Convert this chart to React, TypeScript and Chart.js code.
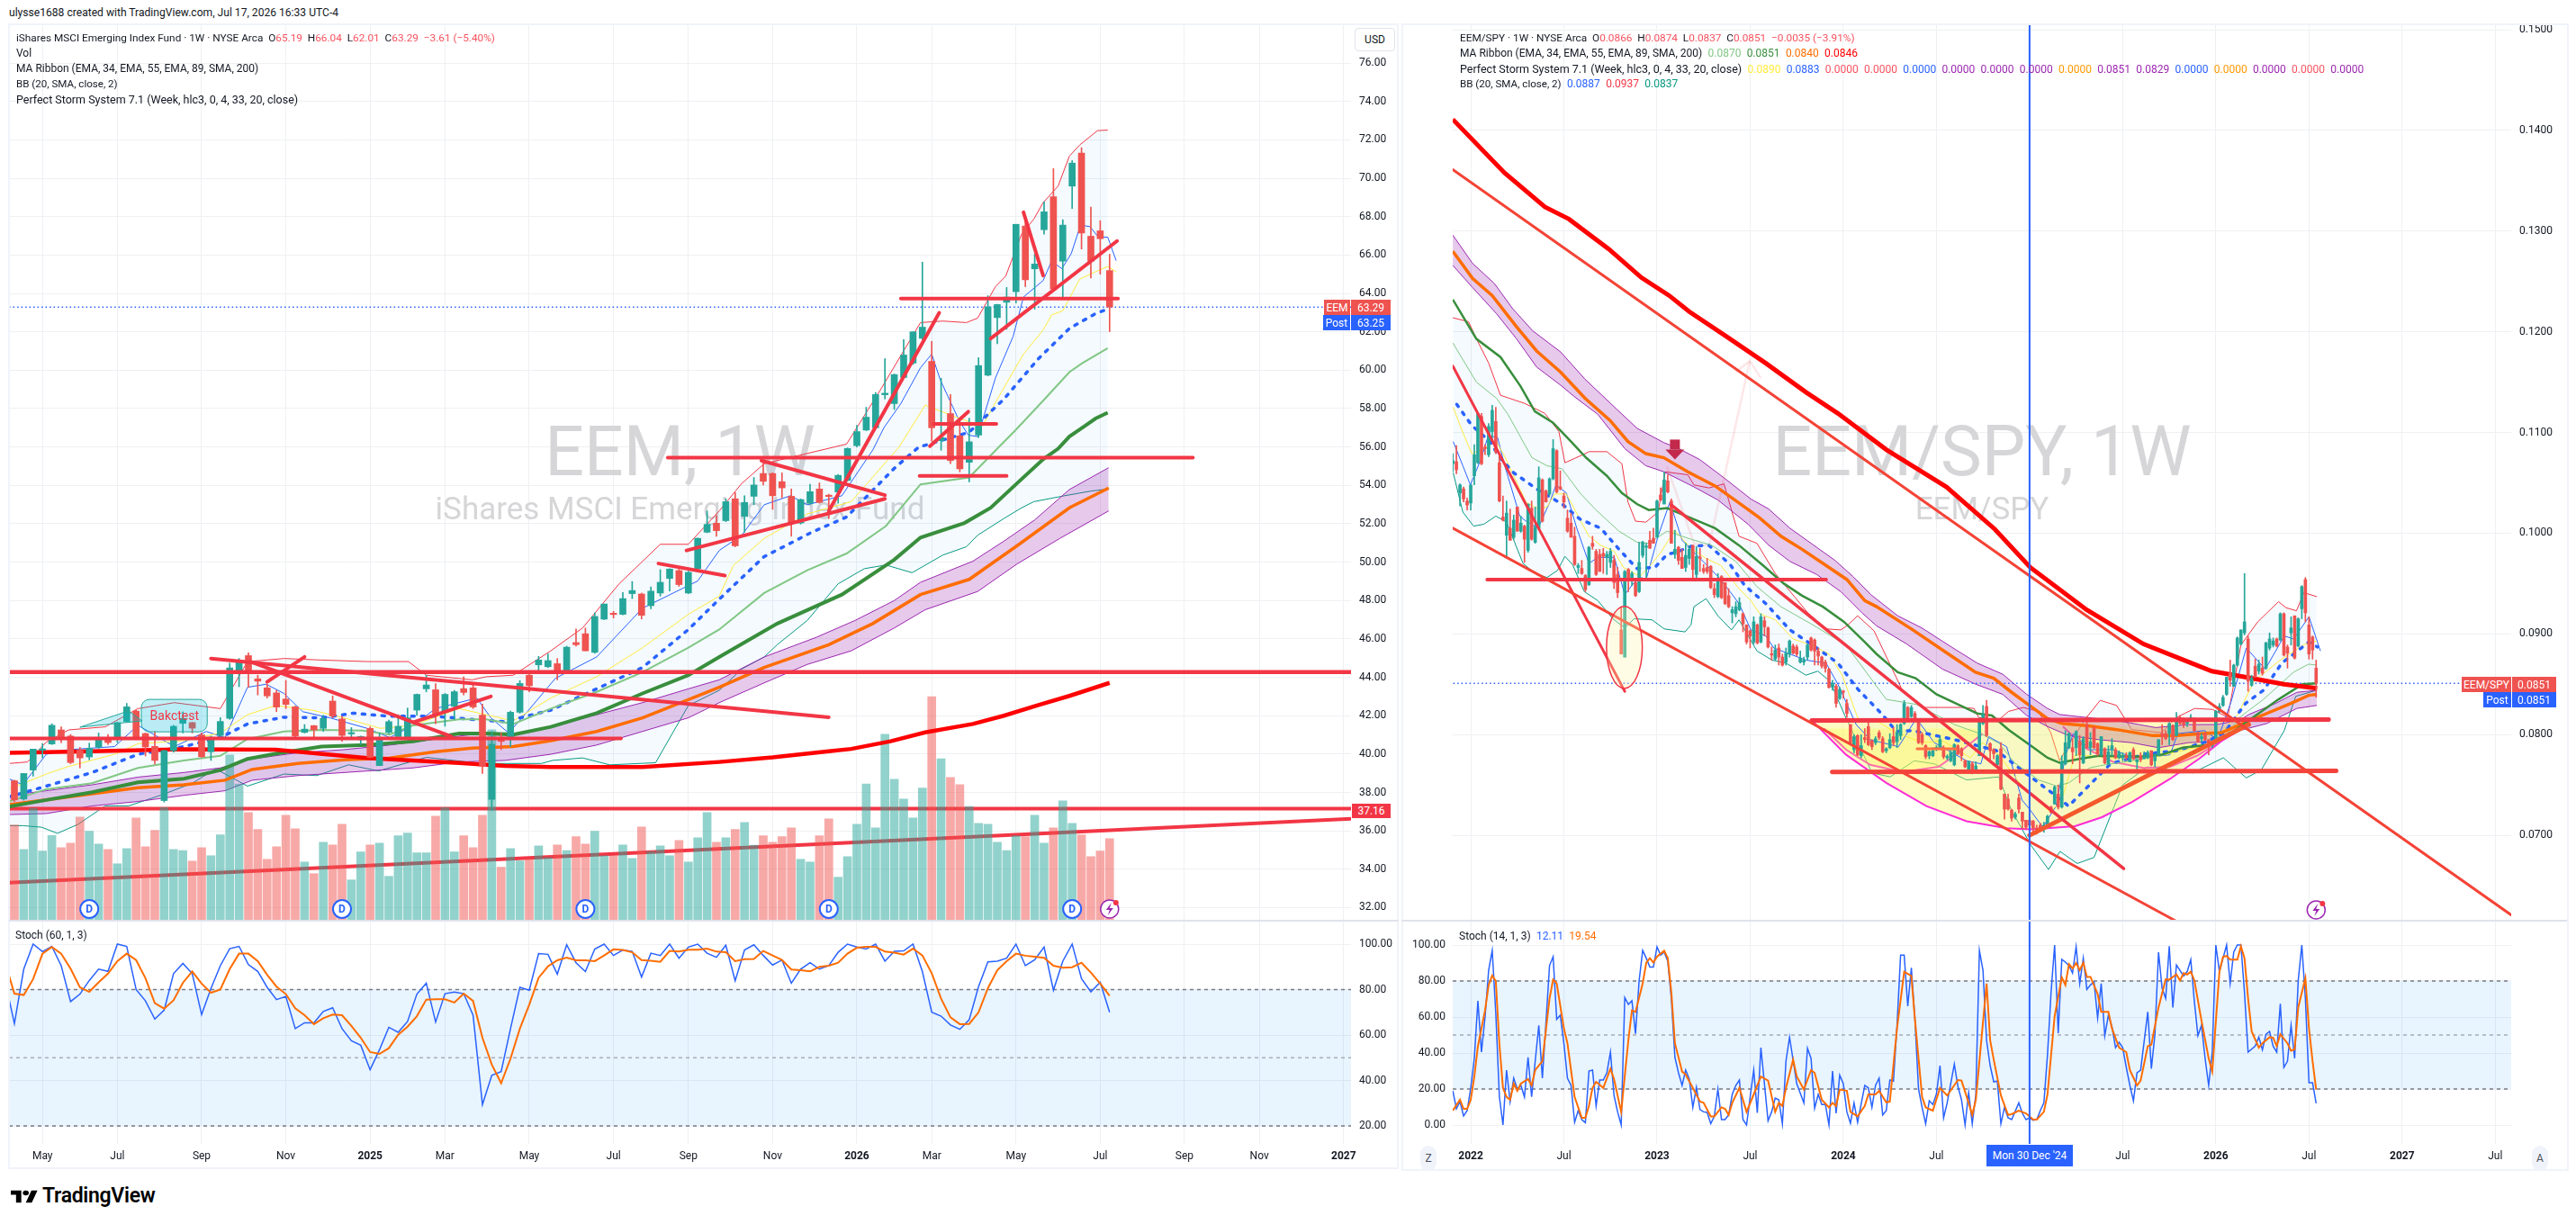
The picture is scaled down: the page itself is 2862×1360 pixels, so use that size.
import { useEffect, useRef } from "react";
import Chart from "chart.js/auto";

// ---- left pane: EEM weekly, one entry per week from week 0
const eemOpen = [38.61,37.66,39.17,40.2,40.53,41.26,40.94,40.2,39.85,40.36,40.78,40.86,41.7,42.24,41.07,40.4,37.58,40.18,41.6,41.64,41,40.12,40.97,41.86,44.19,45.13,43.92,43.45,43.19,42.87,42.46,41.13,41.48,41.34,42.76,41.83,41.05,40.75,41.34,39.4,41.13,40.91,40.78,42.29,43.4,43.35,42.18,42.49,43.41,43.45,42.03,37.64,40.78,40.86,42.18,44.11,44.65,44.55,44.71,44.27,45.81,46.27,45.3,47.03,47.3,47.28,48.36,48.34,47.73,48.39,49.15,49.56,48.39,49.66,51.56,52.03,52.16,53.3,52.38,53.43,54.62,54.62,54.19,53.43,52.04,53.07,53.81,53.47,53.65,54.26,56.07,56.88,57,58.72,58.26,59.62,60.37,61.66,60.46,56.33,57.74,56.58,55.2,56.62,59.74,62.74,63.54,64.09,67.51,65.28,67.32,69.04,65.68,69.59,71.31,66.98,67.26,65.19];
const eemHigh = [38.64,38.99,40.26,40.55,41.58,41.42,41.02,40.35,40.57,41.1,41.02,41.66,42.64,42.29,41.1,41.18,40.2,41.5,42.2,41.66,41.1,40.94,41.9,44.74,44.98,45.28,44.11,43.64,43.32,43.84,42.5,41.54,41.5,42.02,43.03,41.97,41.38,40.94,41.42,41.1,41.77,42.05,42.4,43.13,44.11,43.67,43.16,43.32,44.03,43.64,42.6,41.18,41.1,42.24,43.83,44.19,45.09,45.22,44.98,45.62,46.52,46.57,47.36,47.82,47.44,48.42,48.99,48.39,48.71,49.61,49.66,49.63,49.53,51.26,52.67,52.43,53.3,53.62,53.46,54.41,55.29,54.65,54.65,53.81,53.29,54.06,54.13,53.54,54.57,55.95,57.13,58.07,58.84,60.6,59.8,61.59,62,65.63,61.5,59.58,58.73,57.4,57.5,60.65,63.88,63.44,64.31,67.6,67.79,66.04,68.78,70.5,67.84,70.92,71.59,68.5,67.79,66.04];
const eemLow = [37.53,37.6,38.85,39.8,40.5,40.6,39.5,39.28,39.7,40.3,40.5,40.6,41.66,40.75,39.9,39.48,37.5,40.1,41.1,41.1,39.83,39.67,40.86,41.81,43.51,43.48,43.08,42.92,42.21,42.37,40.9,41.1,40.86,41.18,41.89,40.67,40.86,40.5,39.8,39.4,41.07,40.86,40.7,42.02,43.24,41.58,41.45,41.81,43.08,42.37,38.99,37.06,40.23,40.39,42.13,43.24,44.19,44.51,43.87,44.19,45.62,45.38,45.25,47,47.09,47.25,48.1,47.04,47.57,48.23,48.5,48.74,48.36,49.6,51.53,51.35,52.11,50.8,51.56,52.99,54.02,52.75,53.35,51.35,51.98,53,53.07,52.27,53.07,54.22,56,56.85,56.98,58.5,57.95,59.6,60.3,61.6,56.3,55.83,55.13,54.7,54.18,56.49,59.7,61.38,62.13,63.5,64.35,63.18,67.09,64.2,63.73,68.42,66.31,64.8,65,62.01];
const eemClose = [37.61,38.99,40.26,40.25,41.5,40.78,39.56,39.8,40.3,40.75,40.6,41.64,42.46,40.78,40.37,39.67,40.18,41.45,41.86,41.35,39.86,40.88,41.7,44.49,44.9,44.19,43.8,43.03,42.45,42.59,40.94,41.3,41.26,41.86,41.98,40.97,41.07,40.92,39.83,40.81,41.69,41.45,41.89,43.11,43.6,42.05,43.11,43.25,43.21,42.45,39.36,40.51,40.66,42.18,43.68,43.56,44.9,44.87,44.19,45.57,45.7,45.38,47.17,47.82,47.27,48.1,48.52,47.23,48.49,48.95,49.64,48.83,49.47,51.24,51.97,51.64,53.15,50.85,53.11,54.02,54.21,53.46,53.87,52.04,53.26,53.67,53.11,53.42,54.52,55.92,56.8,57.55,58.73,58.8,59.77,60.79,62,62.24,57,56.49,55.29,54.86,56.27,60.24,63.3,63.42,63.81,67.6,64.71,65.53,68.25,64.23,67.56,70.79,67.14,65.68,66.85,63.29];
const eemVolume = [42.7,31.8,50.2,31.1,38,32.6,34.6,46.3,39.9,34.2,31.8,25.4,32.2,45.9,33,40.3,50.5,31.8,31.3,26.6,32.6,29,38.3,74,61,48.3,40.7,27.4,33,47.1,41,26.2,21,35,33.8,43,18.2,30.7,33.8,34.6,19.8,37.9,39.1,30.3,30.3,46.7,50.5,30.7,37.9,32.6,47.1,85.2,23.9,32.2,26.7,27.5,33.4,28.2,33.8,31.3,37.5,34.2,39.9,29,29,33.8,27.8,41.8,30.9,33.4,29,35.8,26.2,37,48.3,35,37,40.7,43.8,33.7,37.9,35,37.5,41.4,27.4,26.2,37.9,45.5,19.4,28.6,43,61,41.4,83.2,63.1,54.3,45.9,59.2,100,72.3,63.9,60.7,51,43.4,43,35,31.3,37.9,37.5,47.1,34.6,41.4,53.5,43.4,38.3,28.6,31.1,36.6];

// [week, price] vertices
const eemSma200 = [[-0.6,40.07],[8.3,40.15],[18.1,40.25],[27.9,40.23],[37.7,39.8],[47.5,39.54],[52.4,39.39],[57.3,39.33],[67.1,39.33],[75.3,39.59],[81,39.83],[87,40.15],[89.4,40.27],[93.6,40.67],[97.3,41.13],[102.4,41.57],[105.7,42],[109.4,42.56],[112.7,43.03],[117,43.71]];
const eemEma55 = [[-0.6,37.26],[3.4,37.61],[8.3,38.01],[13.2,38.53],[18.1,38.72],[22,39.17],[24.9,39.75],[27.9,40.02],[32.8,40.39],[37.7,40.47],[42.6,40.66],[47.5,41.07],[50.4,41.07],[53.3,41.02],[57.3,41.42],[62.2,42.13],[67.1,43.16],[72,44.11],[75.3,45.06],[81.5,46.8],[88.4,48.31],[94,50.13],[96.8,51.28],[101.5,52.04],[104.3,52.83],[107.1,54.1],[109.9,55.36],[111.5,55.91],[112.7,56.54],[114.1,57.01],[115.5,57.48],[116.8,57.79]];
const eemEma89 = [[-0.6,37.37],[3.4,37.61],[8.3,37.93],[13.2,38.25],[18.1,38.4],[22.5,38.64],[25.4,39.2],[30.3,39.51],[35.2,39.7],[40.1,39.8],[45,40.12],[48.9,40.31],[53.3,40.39],[57.3,40.7],[62.2,41.18],[67.1,41.89],[72,42.84],[75.3,43.48],[80.1,44.51],[87,45.7],[91.7,46.8],[96.8,48.31],[102,49.1],[107.1,50.85],[112.7,52.83],[116.9,53.86]];
const eemBandTop = [[-0.6,37.85],[3.4,38.09],[8.3,38.4],[13.2,38.8],[18.1,39.04],[22,39.28],[25.4,39.75],[30.3,40.07],[35.2,40.23],[40.1,40.47],[45,40.78],[48.9,41.02],[53.3,41.02],[57.3,41.42],[62.2,42.05],[67.1,42.68],[72,43.4],[75.3,43.87],[80.1,45.06],[85.7,46.09],[89.8,46.96],[94,48],[96.8,48.95],[102.4,50.05],[105.7,51.09],[109,52.2],[112.7,53.78],[116.9,54.92]];
const eemBandBottom = [[-0.6,36.85],[3.4,36.9],[8.3,37.3],[13.2,37.53],[18.1,37.85],[22.5,38.09],[25.4,38.64],[30.3,38.88],[37.7,39.12],[42.6,39.28],[47.5,39.59],[52.4,39.67],[57.3,39.99],[62.2,40.47],[67.1,41.18],[72,41.89],[75.3,42.68],[80.1,43.71],[84.7,44.67],[89.4,45.38],[94,46.57],[97.3,47.52],[102.9,48.47],[107.1,49.9],[111.7,51.24],[116.9,52.67]];
const eemEma34 = [[-0.6,37.53],[3.4,38.17],[8.3,38.48],[13.2,39.28],[18.1,39.67],[22,39.91],[24.9,40.78],[28.8,41.18],[32.8,41.26],[37.2,41.23],[40.1,41.02],[42.6,41.5],[47.5,41.81],[50.4,41.81],[53.3,41.57],[57.3,42.37],[62.2,43.24],[67.1,44.27],[72,45.54],[75.3,46.49],[80.1,48.39],[84.7,49.58],[88.9,50.45],[93.1,51.88],[96.8,54.05],[102,54.41],[105,55.91],[106.9,56.85],[109.9,58.41],[112.7,59.9],[114.1,60.37],[116.8,61.15]];
const eemStormBlue = [[-0.6,37.77],[3.4,38.33],[8.3,39.04],[13.2,39.99],[18.1,40.39],[22,40.86],[24.9,41.57],[28.8,41.92],[32.8,41.89],[36.2,42.13],[40.1,41.97],[45,41.97],[48.9,41.81],[52.4,41.69],[57.3,42.29],[62.2,43.4],[67.1,44.51],[72,46.49],[75.3,48.07],[80.1,50.29],[85.2,51.56],[88.9,52.35],[94,54.89],[96.6,55.99],[102,56.77],[105.7,58.49],[109.4,60.6],[112.7,62.17],[115.5,62.95],[116.8,63.18]];
const eemStormYellow = [[-0.6,38.17],[3.4,38.96],[5.8,39.36],[10.7,39.99],[13.2,40.54],[18.1,40.7],[22,41.1],[24.9,42.05],[27.9,42.53],[31.8,42.29],[35.2,41.89],[39.1,41.34],[42.6,41.5],[47.5,42.37],[50.4,42.05],[53.3,41.73],[57.3,42.92],[62.2,44.03],[67.1,45.54],[72,47.28],[75.3,48.23],[76.8,49.82],[80.1,51.24],[84.7,52.51],[89.4,53.15],[94.5,55.99],[97.3,58.18],[100.6,57.55],[103.4,57.08],[105.2,58.65],[107.8,60.84],[109.9,62.09],[110.8,62.87],[112,63.1],[113.8,64.74],[115.5,65.13],[116.8,65.4],[117.7,65.13]];
const eemBasis = [[-0.6,38.72],[0.9,38.4],[3.4,39.99],[5.8,40.23],[10.7,40.39],[13.2,41.5],[17.1,40.39],[20.5,41.18],[22.5,40.86],[24.9,43.48],[26.9,43.64],[28.8,43.16],[30.8,42.21],[33.7,41.89],[37.7,41.34],[40.1,40.86],[42.6,41.5],[45,42.37],[49.4,42.92],[50.9,41.89],[52.8,41.1],[54.8,42.21],[57.8,43.95],[62.2,45.06],[67.1,47.6],[73,49.02],[75.3,50.61],[77.7,51.4],[80.1,52.99],[82.9,53.46],[84.7,52.99],[88.4,53.46],[91.7,55.84],[92.9,57.01],[94.7,58.26],[96.8,60.13],[98,60.84],[98.9,59.51],[100.9,57.4],[101.9,56.62],[102.9,56.54],[104.8,59.59],[106.7,61.77],[107.8,63.81],[109.9,64.67],[110.8,65.68],[111.9,65.29],[112.9,66.07],[113.9,67.56],[114.9,67.48],[115.8,66.93],[116.8,66.93],[117.7,65.71]];
const eemUpper = [[-0.6,39.51],[1.4,39.59],[3.4,40.62],[5.8,41.26],[9.7,41.42],[13.2,42.37],[17.1,42.68],[22,42.37],[24.9,44.82],[28.8,44.98],[32.8,44.9],[37.7,44.82],[42.1,44.82],[44,44.11],[48.9,43.87],[50.4,44.03],[53.3,44.11],[57.3,45.38],[60.7,46.57],[64.6,48.87],[69,50.93],[72,50.93],[75.3,52.67],[77.7,54.1],[80.1,55.13],[88.9,56.15],[92.6,59.04],[96.8,62.48],[99.2,62.56],[101.7,62.48],[102.9,62.71],[104.8,64.35],[105.9,64.9],[107.6,67.09],[108.9,67.87],[109.9,68.73],[111.5,69.59],[112.7,71.15],[113.8,71.73],[115.7,72.48],[116.8,72.51]];
const eemLower = [[-0.6,36.27],[0.9,36.27],[2.9,36.19],[4.6,35.87],[6.8,36.34],[9.7,37.3],[12.2,37.3],[15.6,37.85],[19,38.48],[21.5,39.23],[24.9,38.33],[28.8,38.96],[32.3,38.88],[35.7,39.44],[38.9,39.12],[44,39.83],[49.9,39.51],[56.3,39.51],[57.5,39.67],[60.7,39.8],[63.6,39.44],[68.5,39.55],[72,42.53],[75.3,43.32],[77.7,44.43],[80.1,45.06],[81.5,45.7],[84.7,46.96],[88,48.87],[90.8,49.66],[93.1,49.85],[95.9,49.45],[99.2,50.37],[101.7,50.8],[102.9,51.4],[105.7,52.27],[107.6,52.83],[108.9,53.15],[112.2,53.46],[115,53.7],[116.8,53.81]];
// drawn lines: [week, price, week, price]
const eemTrendsBelow = [[-1,37.16,146,37.16],[-0.6,33.3,142.8,36.63]];
const eemTrends = [[-1,44.27,146,44.27],[-0.6,40.81,64.8,40.81],[21,44.98,87,41.92],[25.2,44.82,46.7,40.91],[27,43.76,31,45.06],[42.6,41.65,50.9,43],[69.8,55.44,125.9,55.44],[68.8,49.93,75.9,49.3],[71.8,50.61,93,53.3],[79.8,55.29,93,53.49],[87,52.67,98.8,62.99],[96.7,54.49,106,54.49],[97.8,56.04,101.9,57.84],[98.2,57.2,104.9,57.2],[94.7,63.73,117.9,63.73],[104.3,61.65,117.8,66.73],[107.8,68.23,109.9,64.93]];
const eemDividendWeeks = [8,35,61,87,113];

const eemStochK = [84,65,89,100,96.7,99,90.5,74.7,78,84,89,88,100,99,80,75,67,71,87,91.5,87,69,80.5,90.5,98,99,91,88,81,75.6,77,62.8,65.4,65.4,70.4,72,62.8,57.5,55.5,44.7,53.5,63.4,61.2,66,78,82.8,65.7,78.2,78.9,78.2,68.7,29.4,42.3,43.9,62.8,81,79.7,95.8,95.5,86.8,99.7,91.8,87.9,97.8,100,95,97.4,96.8,85.5,96,95,100,93.8,98.7,100,96,94.2,99.5,83.9,97.4,99.7,95,90.8,93,82.8,89,91.8,89,90.5,96.4,100,98.7,97.8,100,92.5,96.8,97,100,87.9,70,68.3,64.4,62.5,66.7,81.3,92.2,92.5,93.8,100,90.5,93.1,98.7,79.7,92.5,100,84.8,79,83.2,70];
const eemStochD = [92,78.2,77.6,84.6,95.8,98.7,95.8,89.2,81,79,83.2,87,92.5,95.8,93,85,74,71.6,75.3,83,88,82.6,78.6,80,89,95.8,95.8,92.5,86.5,81.3,78,71.8,68.7,64.8,67.4,69,68.7,64,58.8,52.5,51.7,54.2,60.1,63.7,68.3,75.6,75.7,75.7,74.3,78.2,75,58.8,47,38.8,49.6,62.8,73.3,85.2,90.2,92.9,94,92.9,92.9,92.5,95,97.7,97.4,96.4,93,92.7,92.2,97,96.7,97.5,97.5,98,96.7,96.4,92.5,93.4,93.5,97,95,93,88.8,88.5,88,90,90.5,91.8,95.8,98.4,98.8,98.8,96.7,96.2,95.4,98,95,87.2,76,67.8,64.8,64.9,70,80.6,88.5,92.5,95.8,94.9,94.5,94,90.5,89.6,89.8,91.8,87.5,82.6,77.3];

const eemTickWeeks = [3,11,20,29,38,46,55,64,72,81,90,98,107,116,125,133,142];
const eemTickLabels = ["May","Jul","Sep","Nov","2025","Mar","May","Jul","Sep","Nov","2026","Mar","May","Jul","Sep","Nov","2027"];
const eemPriceTicks = [76,74,72,70,68,66,64,62,60,58,56,54,52,50,48,46,44,42,40,38,36,34,32];

// ---- right pane: EEM/SPY ratio in units of 0.0001, first entry is week -5 (week 0 = Jan 2022)
const ratioOpen = [1069,1071,1040,1044,1032,1030,1057,1070,1116,1085,1078,1101,1111,1070,1016,998,1005,996,1026,1002,1007,983,1025,991,1005,1053,1042,1039,1054,1082,1046,1037,1015,1010,997,966,965,958,949,990,982,979,980,976,971,973,959,904,877,964,955,951,942,978,986,993,995,996,1038,1029,1052,1032,979,986,976,966,975,988,959,976,965,966,967,945,937,957,951,938,921,920,924,920,909,903,892,909,892,913,906,880,875,886,877,872,880,888,887,872,872,877,896,894,883,877,872,865,847,848,836,843,831,810,785,799,779,797,808,794,792,802,796,784,787,798,793,799,811,827,818,821,815,800,789,779,779,786,787,787,777,774,770,789,786,774,765,771,765,779,811,828,791,785,770,786,741,736,725,718,737,723,715,715,714,707,710,707,709,728,731,741,728,771,787,787,787,793,772,810,787,807,791,780,786,771,785,785,777,777,779,773,785,773,779,776,777,784,774,780,801,801,801,809,799,817,815,811,814,813,802,796,801,795,789,792,823,829,840,861,848,869,890,901,895,849,868,863,866,866,886,889,895,894,920,887,901,918,888,925,954,909,897,866];
const ratioHigh = [1079,1087,1049,1046,1035,1048,1088,1119,1119,1088,1109,1127,1125,1079,1037,1032,1024,1018,1026,1017,1008,1029,1032,1026,1066,1054,1043,1055,1093,1083,1062,1040,1023,1020,1006,970,973,959,987,997,984,984,985,982,985,978,966,927,963,965,962,952,991,992,990,1002,1005,1033,1045,1061,1058,1034,1003,987,984,990,987,988,987,985,969,975,968,950,960,958,951,945,927,932,936,921,909,904,917,910,920,917,907,887,889,890,880,886,894,890,889,883,877,890,897,895,886,878,874,866,854,850,847,844,835,810,800,800,800,806,812,795,798,804,798,787,801,807,810,811,834,828,829,823,816,802,790,784,787,789,798,789,780,786,791,790,787,775,774,773,773,817,829,834,792,786,780,792,741,741,726,723,741,723,715,718,715,710,712,713,720,729,749,750,779,804,802,796,804,799,798,818,802,808,792,798,787,789,796,787,784,782,782,783,787,775,782,783,784,784,781,795,810,804,812,810,822,819,817,816,820,817,803,801,802,795,795,824,831,839,857,874,870,897,904,960,898,859,875,874,877,892,901,896,896,921,921,889,917,918,916,948,956,917,898,874];
const ratioLow = [1061,1059,1027,1031,1023,1023,1048,1069,1068,1078,1076,1091,1079,1031,1012,975,993,994,1002,1001,971,981,993,990,1003,1011,1031,1037,1053,1040,1043,1025,1001,996,968,960,959,942,948,984,958,962,960,959,966,945,936,880,877,942,948,937,941,976,953,985,990,996,1032,1029,1040,990,975,969,965,962,969,956,955,962,960,960,945,936,936,935,929,926,911,917,923,902,890,886,890,890,891,898,886,874,874,869,868,869,877,880,878,871,869,874,883,869,869,866,862,846,844,827,835,836,817,791,782,779,777,792,789,785,790,795,782,782,786,789,787,795,810,813,817,814,791,790,776,776,778,784,785,776,775,773,769,780,774,767,764,761,764,779,810,798,774,776,768,745,716,725,714,716,722,706,706,706,703,701,704,703,709,722,731,726,727,770,786,771,779,752,771,786,780,786,779,779,771,770,779,776,776,774,775,773,775,762,773,776,776,769,768,779,790,795,790,794,799,810,807,808,813,803,793,793,794,780,787,791,822,828,839,848,848,868,889,899,843,848,857,860,859,865,884,887,887,893,878,866,889,875,887,915,912,875,875,837];
const ratioClose = [1072,1063,1048,1034,1028,1048,1078,1119,1069,1084,1106,1122,1081,1032,1013,1020,993,1013,1002,1010,994,1029,994,1006,1055,1012,1031,1054,1084,1041,1044,1031,1002,996,969,968,960,944,986,987,959,962,977,979,982,951,941,880,962,956,960,938,971,991,987,985,990,1032,1033,1053,1041,990,984,973,965,978,984,964,977,975,962,962,946,939,954,936,930,927,924,927,931,910,892,898,912,891,917,907,887,879,884,877,869,881,893,881,880,876,874,889,884,883,878,868,866,847,851,831,845,842,821,792,798,780,789,795,790,788,796,797,783,786,795,792,802,810,831,814,827,816,792,792,778,783,784,787,795,778,778,782,790,781,779,768,773,762,769,815,820,799,784,781,779,746,726,726,717,721,726,714,708,710,707,706,707,710,719,723,748,728,773,792,801,783,803,780,796,787,793,787,781,798,772,783,789,777,782,779,777,782,776,775,775,778,782,770,779,795,798,796,811,795,815,811,810,815,817,804,793,798,795,789,793,823,828,837,857,854,869,896,904,912,853,856,857,870,861,891,895,893,888,920,879,881,906,876,915,947,921,880,884,851];

const ratioSma200 = [[-5,1411],[9.4,1358],[20.7,1324],[27.4,1312],[38.6,1282],[47.6,1254],[55.4,1236],[61,1220],[71.1,1196],[82.3,1169],[93.6,1140],[102.5,1119],[116,1083],[132.8,1046],[146.3,1004],[156.2,966],[171.9,924],[187.8,890],[198.4,875],[206.9,863],[216.5,857],[227,850],[236.3,846]];
const ratioEma55 = [[-5,1232],[1.6,1193],[8.3,1175],[13.9,1146],[17.9,1121],[22.9,1110],[28,1091],[32.2,1075],[38,1057],[42.2,1040],[46.4,1029],[49.7,1023],[54.8,1025],[61.5,1015],[68.2,1005],[74.9,988],[81.6,968],[87.4,950],[92.5,938],[98.3,927],[104.2,912],[110,892],[113.3,880],[119.2,862],[124.2,856],[130,840],[138.4,826],[141.4,821],[145.5,819],[150.1,805],[156,790],[161,777],[164.4,772],[170.3,776],[175.3,779],[187,778],[192.9,780],[198.7,787],[206.3,790],[211.3,799],[217.2,814],[225.5,835],[232.2,850],[236.2,851]];
const ratioEma89 = [[-5,1280],[0.5,1253],[6,1236],[12.8,1205],[18.4,1181],[25.1,1160],[31.9,1134],[38.9,1112],[43.9,1091],[48.9,1079],[53.9,1075],[60.6,1061],[68.2,1047],[74.9,1030],[80.7,1015],[86.6,997],[92.5,984],[100,966],[105,954],[110,933],[113.3,927],[123.4,904],[134.2,878],[140.9,862],[146,856],[151,842],[156,829],[161,816],[165.2,811],[172,809],[180.3,805],[190.4,799],[197,799],[204.6,801],[209.6,802],[215.5,811],[222.2,821],[228.9,831],[233.9,839],[236.2,840]];
const ratioBandTop = [[-5,1296],[0.5,1268],[6.6,1248],[11.7,1223],[17.3,1201],[25.1,1180],[31.9,1153],[40.8,1123],[46.5,1104],[53.9,1090],[58.1,1084],[64,1073],[70.7,1055],[78.2,1034],[83.2,1024],[89.1,1005],[95,990],[101.7,973],[106.7,957],[111.7,939],[119.2,918],[125.9,906],[134.2,887],[141.4,871],[148.5,860],[155.2,840],[161,826],[164.4,820],[171.9,817],[180.3,814],[191.2,807],[200.4,810],[208,810],[214.6,814],[217.2,820],[224.7,831],[230.6,842],[236.2,844]];
const ratioBandBottom = [[-5,1266],[0.5,1244],[7.2,1218],[12.8,1193],[18.4,1165],[25.1,1147],[28.8,1136],[35.5,1118],[43,1084],[48.9,1067],[53.9,1061],[62.3,1046],[69,1033],[77.4,1009],[83.2,988],[89.1,972],[96.6,959],[103.3,942],[109.2,921],[113.3,908],[121.7,890],[131.7,865],[141,850],[148.5,840],[155.2,819],[161,808],[166.9,799],[175.3,795],[184.5,792],[192,787],[200.4,792],[208,793],[214.6,804],[222.2,811],[230.6,826],[236.2,829]];
const ratioEma34 = [[-5,1189],[1.6,1150],[7.2,1134],[10.4,1118],[17.1,1075],[21.3,1067],[25.5,1064],[30.5,1040],[34.7,1024],[41.4,1002],[46.4,991],[49.7,990],[54.8,1002],[61.5,994],[67.3,988],[74,972],[79.9,947],[86.6,927],[95,910],[104.8,889],[116,835],[124.4,830],[135,810],[142.9,800],[147.6,791],[151.8,772],[158.5,755],[163.5,749],[166.9,752],[172.8,767],[177,770],[184.5,774],[190.4,778],[199.6,787],[206.3,790],[211.3,801],[214.6,817],[221.3,835],[229.7,862],[233.9,870],[236.2,869]];
const ratioStormBlue = [[-3.9,1128],[0.3,1107],[5.4,1091],[7.9,1076],[12,1060],[18.8,1043],[25.5,1029],[30.5,1014],[36.3,1005],[41.4,984],[46.4,965],[51.4,966],[54.8,979],[57.3,981],[61.5,987],[66.5,988],[72.4,969],[76.5,948],[82.4,930],[89.1,904],[96.6,886],[102.5,871],[108.1,845],[114.9,820],[118.8,803],[123.3,804],[135.1,795],[146.8,784],[155.2,761],[162.7,741],[166.9,729],[171.9,747],[178.6,771],[188.7,781],[197,784],[205.4,793],[210.4,802],[216.3,831],[221.3,844],[226.4,871],[230.1,881],[233.9,892],[236.4,887]];
const ratioStormYellow = [[-4.9,1125],[-2.2,1100],[0.3,1079],[3.7,1084],[7,1092],[9.5,1076],[15.4,1031],[18.8,1024],[21.3,1026],[23.4,1039],[26.7,1039],[30,1017],[33,997],[36.3,988],[40.1,982],[42.6,966],[47.2,957],[49.7,966],[53.1,981],[56.9,1003],[61.5,985],[65.7,975],[69.8,968],[74.9,945],[78.2,933],[80.7,920],[85,914],[90,895],[95,889],[100,880],[103.7,859],[108.1,816],[112.6,815],[118.2,803],[126,792],[131.7,794],[139.5,777],[142.9,792],[147.4,780],[153,753],[156.4,740],[161.8,723],[165,735],[168.7,780],[179.3,777],[190,777],[197.4,783],[206.9,791],[214.3,821],[218.6,853],[226,874],[232.4,889],[236.1,893]];
const ratioBasis = [[-4.9,1091],[-2.2,1067],[-0.1,1048],[2.8,1073],[4.9,1097],[7.5,1095],[9.5,1067],[13.7,1017],[15.4,1012],[18.8,1005],[22.1,1031],[23.8,1048],[26.7,1040],[29.6,1005],[33,970],[35.5,976],[40.1,976],[43,939],[45.6,951],[47.7,956],[48.9,953],[52.3,997],[55.6,1031],[59,993],[61.5,984],[65.7,969],[69,957],[72.4,942],[74.9,930],[78.2,904],[82.4,898],[84.6,886],[93.6,874],[99.2,871],[102.5,850],[107.6,810],[111.5,795],[119.4,788],[124.4,816],[129.4,792],[138.4,774],[142.4,771],[144.6,798],[149.6,788],[153.9,735],[156,726],[159.7,708],[163.4,729],[166.1,780],[168.2,801],[173,785],[179.3,785],[185.7,776],[195.2,780],[197.4,801],[204.8,804],[208.5,795],[212.2,832],[216.5,886],[221.8,865],[227.1,898],[229.7,895],[234,917],[237.2,883]];
const ratioUpper = [[-5,1214],[-0.6,1210],[1.6,1193],[5,1169],[8.3,1137],[15,1129],[20.7,1119],[24.6,1101],[26.3,1070],[31.3,1078],[33,1081],[38,1081],[42.2,1069],[43.9,1031],[46,1012],[48.9,1011],[52.3,1021],[54.3,1061],[60.6,1058],[62.3,1048],[66.5,1045],[70.7,1049],[74.9,997],[79.9,990],[85,960],[94.1,921],[99.2,905],[103.3,904],[105,908],[108,918],[112.6,903],[120.5,844],[125.9,827],[136.8,827],[140.5,826],[141.8,817],[147.2,814],[150.1,823],[154.3,827],[158.5,823],[161.9,802],[164.4,774],[166.9,790],[171.9,817],[175.7,834],[180.3,829],[184.5,805],[192.9,802],[197,817],[202.1,826],[207.1,825],[211.3,817],[215,889],[219.7,912],[225.5,932],[227.6,926],[230.5,923],[232.6,941],[236.2,937]];
const ratioLower = [[-4.9,1060],[-2.2,1021],[0.8,1007],[3.7,1009],[7,1017],[10,1011],[14.6,970],[18,960],[21.3,956],[24.2,963],[26.3,977],[28.4,969],[31.7,942],[35.5,933],[39.7,915],[43,906],[45.6,915],[50.6,914],[54,905],[59.8,902],[61.5,909],[62.3,927],[65.7,935],[69,918],[72.8,904],[74.9,914],[79.9,883],[84.1,874],[88,871],[93.6,859],[96.9,863],[100.3,853],[104.8,816],[108.1,792],[112,762],[117.1,758],[123.8,774],[129.4,771],[138.4,755],[147.4,758],[150.8,726],[156.4,690],[161.3,666],[164.5,684],[169.3,672],[174,678],[182,750],[188.9,768],[201.6,762],[210.1,777],[216.5,757],[220.7,765],[227.1,804],[230.3,838],[236.1,844]];
const ratioBigArc = [[95.8,812],[104.8,780],[116,752],[127.2,729],[138.4,714],[149.6,707],[156.4,706],[168.7,709],[176.2,718],[184.6,733],[195.2,756],[203.7,777],[210.1,795],[216.5,809]];
const ratioSmallArcA = [[98.6,806],[104.8,785],[111.5,770],[120.5,763],[130.6,768],[137.3,785],[142.9,801]];
const ratioSmallArcB = [[165.3,808],[171.9,786],[179.3,773],[187.8,767],[195.2,768],[202.7,779],[210.1,795],[217,809]];
const ratioFaintArrow = [[54.8,1066],[62.3,990],[66.5,987],[77.9,1171]];
const ratioFaintArrowHead = [[73.9,1160],[77.9,1171],[81,1154]];
const ratioTrends = [[-5,1361,290.4,621,"#f44336",3],[-5,1005,196.8,615,"#f44336",3],[-5,1166,43,843,"#f23645",3],[4.6,954,99.2,954,"#f23645",4],[56,1028,182.3,667,"#f23645",3.5],[95.2,814,239.5,815,"#f23645",5],[100.9,763,241.6,764,"#f4433c",5],[124.6,786,135.5,786,"#ff7043",3],[156,700,217.2,810,"#f4592c",5]];

const ratioStochK = [19,9,13,5,8,20.5,37,69,40.5,60,86,97,62,15.6,0,30.5,13,26,20,22,15.6,37.6,15.6,null,55.4,26,57,88.6,93.5,58.7,61,45.4,26,22,1.5,8,3,1.3,30,30.5,10.6,25,25,29,40.5,16.4,7.3,0,70.8,67,69,50.7,80,97,92.7,87.7,87.7,99,94.4,96,91,70.3,37.5,29,22,30.5,25.5,9.8,21,8.6,7.3,7,0.7,4.8,20,3,3,5.6,17,22,25,3,0,15.6,30.5,6.8,43,null,2.3,7.3,15,14,0.7,35.5,48.8,null,23,null,12.3,42.6,37,9.3,17,11.4,11.4,0,30,6.5,27.7,23,7.3,1,12.3,1.5,null,22,20.6,9.8,22,26,5.6,8,25,24.4,55.4,94.4,94.4,66,87.4,58.7,20,9.8,0.7,13.4,11.4,17.2,33,4,12.3,null,33.8,21.4,14,0,18,0.7,17,97,86,47,33,24,24.4,0.7,9.8,4,3,null,12.3,6.5,3,4,2.7,3,8,12.3,38.8,73.6,100,51,92,90.5,88.6,84.4,99,78.6,92.7,75.3,77.8,79.4,59.5,78.6,49.6,61,54.6,43,46,43,32,22,13.4,29,30.5,null,62.8,31.3,50.4,96,76,70.3,99.3,65.3,88.9,null,82.8,85.2,91.9,68.7,49.6,55.4,37,22,40.5,100,85.2,null,100,78.6,96,100,100,73.6,40.5,null,43.8,48.8,41.8,50.4,52,43.8,40.5,67.3,32,35.5,55.4,37,80.3,100,70.3,23.5,23.5,12.1];
const ratioStochD = [8,null,14,9,9,14,27,43.8,null,63.7,77.8,83,80,45,20.6,15.6,14,23,19,23,null,25.5,22,30.5,null,35.5,null,70.3,80.8,78.6,null,53.7,45.4,30.5,15.6,null,4,4,10.6,20.6,24,null,20.6,null,31.3,25.5,null,7.3,null,47,63.7,62.8,null,78.6,90.2,92.7,90.2,93.5,null,96.8,92.7,73.6,45.4,null,29.7,28,null,20.6,null,13,12.3,null,4.8,4.8,null,9.8,9,5.6,12.3,null,20.6,null,7.3,null,17,null,26.9,null,24.7,null,7.3,12.3,10.6,20.6,null,36.3,27,null,19.7,null,30.5,29,null,14,null,9.8,12.3,10.6,19.7,null,19,7.3,null,4.8,null,10.6,17,null,17,19,null,12.6,13,null,53.7,null,85.2,null,82.8,58.7,null,15.6,9.8,null,8,null,20.6,null,16.4,null,null,25,24.7,null,12.3,5.6,14,null,null,78.6,47,36.3,null,16.4,null,5.6,6,null,8,null,6.5,null,3,3,null,7.3,17,null,60.4,null,82,77.8,89.4,87,90,86,90.2,82.3,82.3,null,72.8,62.9,null,62.9,53.7,null,43,null,40.5,30.5,null,22,24.7,null,43.8,44.6,null,65.3,null,81,80.8,null,83.6,80.3,84.4,83.6,85.2,80.3,null,57.9,null,37,29.7,null,85.2,93.5,93.9,91.9,null,91.9,99.3,92.7,70.3,52,null,43,45.4,null,48.8,48.4,43.8,50.4,null,45.4,41.3,42,65.3,null,81.6,53.7,35.5,19.7];

const ratioTickWeeks = [0,26,52,78,104,130,156,182,208,234,260,286];
const ratioTickLabels = ["2022","Jul","2023","Jul","2024","Jul","","Jul","2026","Jul","2027","Jul"];
const ratioPriceTicks = [1500,1400,1300,1200,1100,1000,900,800,700];
const stochTicksEem = [100,80,60,40,20];
const stochTicksRatio = [100,80,60,40,20,0];

const eemLegendRows = [["Vol",12],["MA Ribbon (EMA, 34, EMA, 55, EMA, 89, SMA, 200)",12],["BB (20, SMA, close, 2)",11.6],["Perfect Storm System 7.1 (Week, hlc3, 0, 4, 33, 20, close)",12.5]];
const ratioRibbonValues = [["0.0870","#81c784"],["0.0851","#388e3c"],["0.0840","#ff6d00"],["0.0846","#ff0000"]];
const ratioStormValues = [["0.0890","#ffeb3b"],["0.0883","#2962ff"],["0.0000","#f7525f"],["0.0000","#f7525f"],["0.0000","#2962ff"],["0.0000","#9c27b0"],["0.0000","#9c27b0"],["0.0000","#9c27b0"],["0.0000","#ff9800"],["0.0851","#9c27b0"],["0.0829","#9c27b0"],["0.0000","#2962ff"],["0.0000","#ff9800"],["0.0000","#9c27b0"],["0.0000","#f7525f"],["0.0000","#9c27b0"]];
const ratioBbValues = [["0.0887","#2962ff"],["0.0937","#f23645"],["0.0837","#089981"]];

const UP = "#26a69a";
const DOWN = "#ef5350";
const FONT = "Roboto";
const TEXT = "#131722";
const GRID = "#eef0f3";

Chart.defaults.font.family = FONT;

const linePts = (pts: number[][]) => pts.map(([x, y]) => ({ x, y }));

const lineSet = (pts: number[][], color: string, width: number, order: number, extra: any = {}) => ({
  type: "line",
  data: linePts(pts),
  borderColor: color,
  borderWidth: width,
  pointRadius: 0,
  fill: false,
  order,
  ...extra,
});

const barSet = (data: any[], colors: string[], thickness: number, order: number, extra: any = {}) => ({
  type: "bar",
  data,
  backgroundColor: colors,
  barThickness: thickness,
  grouped: false,
  order,
  ...extra,
});

// candle = a thin high-low bar and a thicker open-close bar
const candleSets = (o: number[], h: number[], l: number[], c: number[], first: number, bodyWidth: number) => {
  const colors = o.map((v, i) => (c[i] >= v ? UP : DOWN));
  return [
    barSet(o.map((v, i) => ({ x: i + first, y: [v, c[i]] })), colors, bodyWidth, 2, { minBarLength: 1.5 }),
    barSet(o.map((_, i) => ({ x: i + first, y: [l[i], h[i]] })), colors, 1, 3),
  ];
};

const bandPair = (top: number[][], bottom: number[][], stroke: string, width: number, fillColor: string, order: number) => [
  lineSet(top, stroke, width, order, { fill: "+1", backgroundColor: fillColor }),
  lineSet(bottom, stroke, width, order),
];

// tick labels must not eat into the plot area, it has to line up with the pane exactly
const noPadding = (axis: any) => {
  axis.paddingTop = 0;
  axis.paddingBottom = 0;
  axis.paddingLeft = 0;
  axis.paddingRight = 0;
};

const scales = (opts: any) => ({
  x: {
    type: "linear",
    min: opts.xMin,
    max: opts.xMax,
    offset: false,
    bounds: "data",
    grid: { color: GRID, offset: false, drawTicks: false },
    border: { display: false },
    afterBuildTicks: (axis: any) => {
      axis.ticks = opts.tickWeeks.map((value: number) => ({ value }));
    },
    afterFit: (axis: any) => {
      axis.height = opts.axisHeight;
      noPadding(axis);
    },
    ticks: {
      display: opts.axisHeight > 0,
      autoSkip: false,
      maxRotation: 0,
      padding: 7,
      color: TEXT,
      callback: (v: number) => opts.tickLabels[opts.tickWeeks.indexOf(v)],
      font: (ctx: any) => ({ size: 12, weight: /^\d/.test(ctx.tick?.label ?? "") ? "bold" : "normal" }),
    },
  },
  y: {
    position: opts.yPos ?? "right",
    min: opts.yMin,
    max: opts.yMax,
    bounds: "data",
    grid: { color: GRID, drawTicks: false },
    border: { display: false },
    afterBuildTicks: (axis: any) => {
      axis.ticks = opts.yTicks.map((value: number) => ({ value }));
    },
    afterFit: (axis: any) => {
      axis.width = opts.yWidth;
      noPadding(axis);
    },
    ticks: {
      autoSkip: false,
      color: TEXT,
      padding: opts.yPad ?? 9,
      font: { size: 12 },
      callback: opts.yFormat,
    },
  },
  ...(opts.extra ?? {}),
});

const baseOptions = (scaleOpts: any, paddingLeft = 0) => ({
  responsive: false,
  animation: false,
  layout: { padding: { left: paddingLeft, top: 0, right: 0, bottom: 0 } },
  plugins: { legend: { display: false }, tooltip: { enabled: false } },
  scales: scales(scaleOpts),
});

const drawBadge = (ctx: any, x: number, y: number) => {
  ctx.beginPath();
  ctx.arc(x, y, 10, 0, Math.PI * 2);
  ctx.fillStyle = "#fff";
  ctx.fill();
  ctx.strokeStyle = "#2962ff";
  ctx.lineWidth = 2;
  ctx.stroke();
  ctx.fillStyle = "#2962ff";
  ctx.font = `bold 12px ${FONT}`;
  ctx.textAlign = "center";
  ctx.textBaseline = "middle";
  ctx.fillText("D", x, y + 1);
};

const drawBolt = (ctx: any, x: number, y: number) => {
  ctx.beginPath();
  ctx.arc(x, y, 10, 0, Math.PI * 2);
  ctx.fillStyle = "#fff";
  ctx.fill();
  ctx.strokeStyle = "#9c27b0";
  ctx.lineWidth = 1.5;
  ctx.stroke();
  ctx.beginPath();
  ctx.moveTo(x + 2, y - 7);
  ctx.lineTo(x - 4, y + 1);
  ctx.lineTo(x, y + 1);
  ctx.lineTo(x - 2, y + 7);
  ctx.lineTo(x + 4, y - 1);
  ctx.lineTo(x, y - 1);
  ctx.closePath();
  ctx.fillStyle = "#9c27b0";
  ctx.fill();
  ctx.beginPath();
  ctx.arc(x + 7, y - 7, 3, 0, Math.PI * 2);
  ctx.fillStyle = "#f23645";
  ctx.fill();
};

const watermark = (title: string, subtitle: string) => ({
  id: "watermark",
  beforeDatasetsDraw(chart: any) {
    const { ctx, chartArea } = chart;
    const cx = (chartArea.left + chartArea.right) / 2;
    ctx.save();
    ctx.fillStyle = "#d6d6d8";
    ctx.textAlign = "center";
    ctx.textBaseline = "middle";
    ctx.font = `77px ${FONT}`;
    ctx.fillText(title, cx, 482);
    ctx.font = `35px ${FONT}`;
    ctx.fillText(subtitle, cx, 541);
    ctx.restore();
  },
});

const eemMarks = {
  id: "eemMarks",
  afterDatasetsDraw(chart: any) {
    const { ctx, scales: s, chartArea } = chart;
    const px = (w: number) => s.x.getPixelForValue(w);
    const py = (p: number) => s.y.getPixelForValue(p);
    ctx.save();
    // Bakctest note with its pointer
    ctx.fillStyle = "rgba(0,188,212,0.24)";
    ctx.strokeStyle = "#26a69a";
    ctx.lineWidth = 1;
    ctx.beginPath();
    ctx.moveTo(px(12.2), py(42.25));
    ctx.lineTo(px(7), py(41.4));
    ctx.lineTo(px(13.65), py(41.73));
    ctx.closePath();
    ctx.fill();
    ctx.stroke();
    ctx.beginPath();
    ctx.roundRect(px(13.56), py(42.85), px(20.6) - px(13.56), py(41.16) - py(42.85), 9);
    ctx.fill();
    ctx.stroke();
    ctx.fillStyle = "#f23645";
    ctx.font = `14px ${FONT}`;
    ctx.textAlign = "center";
    ctx.textBaseline = "middle";
    ctx.fillText("Bakctest", px(17.1), py(41.95));
    eemDividendWeeks.forEach((w) => drawBadge(ctx, px(w), chartArea.bottom - 13));
    drawBolt(ctx, px(117), chartArea.bottom - 13);
    ctx.restore();
  },
};

const ratioMarks = {
  id: "ratioMarks",
  afterDatasetsDraw(chart: any) {
    const { ctx, scales: s, chartArea } = chart;
    const px = (w: number) => s.x.getPixelForValue(w);
    const py = (p: number) => s.y.getPixelForValue(p);
    ctx.save();
    // circled spike low
    ctx.beginPath();
    ctx.ellipse(px(42.9), py(886.6), px(47.9) - px(42.9), py(845.9) - py(886.6), 0, 0, Math.PI * 2);
    ctx.fillStyle = "rgba(255,245,170,0.3)";
    ctx.fill();
    ctx.strokeStyle = "#f23645";
    ctx.lineWidth = 1.5;
    ctx.stroke();
    // down arrow on the 2023 high
    const ax = px(57);
    const top = py(1093);
    ctx.fillStyle = "#c2294a";
    ctx.fillRect(ax - 5.5, top, 11, 11);
    ctx.beginPath();
    ctx.moveTo(ax - 10.5, top + 11);
    ctx.lineTo(ax + 10.5, top + 11);
    ctx.lineTo(ax, top + 22);
    ctx.closePath();
    ctx.fill();
    drawBolt(ctx, px(236), chartArea.bottom - 12);
    ctx.restore();
  },
};

const priceLine = (y: number, xMin: number, xMax: number) =>
  lineSet([[xMin, y], [xMax, y]], "#2962ff", 1.5, 6, { borderDash: [1.5, 3] });

const leftRange = { xMin: -0.577, xMax: 142.79, tickWeeks: eemTickWeeks, tickLabels: eemTickLabels };
const rightRange = { xMin: -5.03, xMax: 290.45, tickWeeks: ratioTickWeeks, tickLabels: ratioTickLabels };

const eemConfig = () => ({
  type: "bar",
  data: {
    datasets: [
      ...eemTrends.map((t) => lineSet([[t[0], t[1]], [t[2], t[3]]], "#f23645", t[1] === 44.27 ? 4.5 : 4, 1, { borderCapStyle: "round" })),
      ...candleSets(eemOpen, eemHigh, eemLow, eemClose, 0, 7),
      lineSet(eemSma200, "#ff0000", 4.5, 4),
      lineSet(eemEma55, "#388e3c", 4, 4),
      lineSet(eemEma89, "#ff6d00", 3.5, 4),
      lineSet(eemEma34, "#81c784", 2, 5),
      lineSet(eemStormBlue, "#2962ff", 3.5, 5, { borderDash: [3, 8], borderCapStyle: "round" }),
      lineSet(eemStormYellow, "#ffeb3b", 1, 5),
      lineSet(eemBasis, "#2962ff", 1, 5),
      priceLine(63.29, -1, 143),
      barSet(eemVolume.map((v, i) => ({ x: i, y: v })), eemOpen.map((v, i) => (eemClose[i] >= v ? "rgba(38,166,154,0.5)" : "rgba(239,83,80,0.5)")), 9, 8, { yAxisID: "vol" }),
      ...eemTrendsBelow.map((t) => lineSet([[t[0], t[1]], [t[2], t[3]]], "#f23645", 4, 9)),
      ...bandPair(eemBandTop, eemBandBottom, "#9c27b0", 1, "rgba(156,39,176,0.25)", 10),
      ...bandPair(eemUpper, eemLower, "#f23645", 1, "rgba(33,150,243,0.05)", 11).map((d, i) => (i === 1 ? { ...d, borderColor: "#089981" } : d)),
    ],
  },
  options: baseOptions({
    ...leftRange,
    axisHeight: 0,
    yMin: 31.32,
    yMax: 78.02,
    yTicks: eemPriceTicks,
    yWidth: 53,
    yFormat: (v: number) => v.toFixed(2),
    extra: { vol: { display: false, min: 0, max: 400 } },
  }),
  plugins: [watermark("EEM, 1W", "iShares MSCI Emerging Index Fund"), eemMarks],
});

const ratioConfig = () => ({
  type: "line",
  data: {
    datasets: [
      ...ratioTrends.map((t) => lineSet([[t[0] as number, t[1] as number], [t[2] as number, t[3] as number]], t[4] as string, t[5] as number, 1, { borderCapStyle: "round" })),
      lineSet([[156, 600], [156, 1510]], "#2962ff", 2, 0),
      ...candleSets(ratioOpen, ratioHigh, ratioLow, ratioClose, -5, 3),
      lineSet(ratioSma200, "#ff0000", 5, 4),
      lineSet(ratioEma55, "#388e3c", 2.5, 4),
      lineSet(ratioEma89, "#ff6d00", 3.5, 4),
      lineSet(ratioEma34, "#81c784", 1, 5),
      lineSet(ratioStormBlue, "#2962ff", 3.5, 5, { borderDash: [3, 8], borderCapStyle: "round" }),
      lineSet(ratioStormYellow, "#ffeb3b", 1, 5),
      lineSet(ratioBasis, "#2962ff", 1, 5),
      priceLine(851, -6, 291),
      lineSet(ratioFaintArrow, "rgba(242,54,69,0.12)", 2.5, 6),
      lineSet(ratioFaintArrowHead, "rgba(242,54,69,0.12)", 2.5, 6),
      ...bandPair(ratioBandTop, ratioBandBottom, "#9c27b0", 1, "rgba(156,39,176,0.25)", 10),
      lineSet(ratioBigArc, "#ff2bd6", 2, 11, { fill: { value: 814 }, backgroundColor: "rgba(255,245,80,0.34)" }),
      lineSet(ratioSmallArcA, "#ff2bd6", 2, 11, { fill: { value: 806 }, backgroundColor: "rgba(255,245,80,0.34)" }),
      lineSet(ratioSmallArcB, "#ff2bd6", 2, 11, { fill: { value: 808 }, backgroundColor: "rgba(255,245,80,0.22)" }),
      ...bandPair(ratioUpper, ratioLower, "#f23645", 1, "rgba(33,150,243,0.05)", 12).map((d, i) => (i === 1 ? { ...d, borderColor: "#089981" } : d)),
    ],
  },
  options: baseOptions(
    {
      ...rightRange,
      axisHeight: 0,
      yMin: 615.2,
      yMax: 1505.4,
      yTicks: ratioPriceTicks,
      yWidth: 62,
      yFormat: (v: number) => (v / 10000).toFixed(4),
    },
    57
  ),
  plugins: [watermark("EEM/SPY, 1W", "EEM/SPY"), ratioMarks],
});

const stochDatasets = (k: (number | null)[], d: (number | null)[], first: number, xMin: number, xMax: number, kWidth: number, dWidth: number) => {
  const toPts = (vals: (number | null)[]) =>
    vals.map((v, i) => [i + first, v]).filter((p) => p[1] !== null) as number[][];
  return [
    lineSet(toPts(d), "#ff6d00", dWidth, 1),
    lineSet(toPts(k), "#2962ff", kWidth, 2),
    lineSet([[xMin, 80], [xMax, 80]], "#787b86", 1.5, 3, { borderDash: [4, 4] }),
    lineSet([[xMin, 50], [xMax, 50]], "#a9adb8", 1.5, 3, { borderDash: [4, 4] }),
    lineSet([[xMin, 20], [xMax, 20]], "#787b86", 1.5, 3, { borderDash: [4, 4], fill: { value: 80 }, backgroundColor: "rgba(33,150,243,0.1)" }),
  ];
};

const eemStochConfig = () => ({
  type: "line",
  data: { datasets: stochDatasets(eemStochK, eemStochD, -1, leftRange.xMin, leftRange.xMax, 1.5, 2) },
  options: baseOptions({
    ...leftRange,
    axisHeight: 28,
    yMin: 12.1,
    yMax: 109.9,
    yTicks: stochTicksEem,
    yWidth: 53,
    yFormat: (v: number) => v.toFixed(2),
  }),
});

const ratioStochConfig = () => {
  const sets = stochDatasets(ratioStochK, ratioStochD, -5, rightRange.xMin, rightRange.xMax, 1.5, 2);
  return {
    type: "line",
    data: { datasets: [lineSet([[156, -20], [156, 120]], "#2962ff", 2, 0), ...sets] },
    options: {
      ...baseOptions({
        ...rightRange,
        axisHeight: 28,
        yPos: "left",
        yPad: 8,
        yMin: -10.5,
        yMax: 113,
        yTicks: stochTicksRatio,
        yWidth: 57,
        yFormat: (v: number) => v.toFixed(2),
      }),
      layout: { padding: { left: 0, right: 62, top: 0, bottom: 0 } },
    },
  };
};

const ChartPane = ({ config, left, top, width, height }: any) => {
  const canvasRef = useRef<HTMLCanvasElement>(null);

  useEffect(() => {
    if (!canvasRef.current) return;
    const chart = new Chart(canvasRef.current, config());
    return () => chart.destroy();
  }, [config]);

  return <canvas ref={canvasRef} width={width} height={height} style={{ position: "absolute", left, top, width, height }} />;
};

const Box = ({ left, top, width, height, bg, color = "#fff", children, style }: any) => (
  <div
    style={{
      position: "absolute",
      left,
      top,
      width,
      height,
      background: bg,
      color,
      display: "flex",
      alignItems: "center",
      justifyContent: "center",
      fontSize: 12,
      whiteSpace: "pre",
      ...style,
    }}
  >
    {children}
  </div>
);

const Row = ({ left, top, size = 12, children }: any) => (
  <div style={{ position: "absolute", left, top, height: 17, lineHeight: "17px", fontSize: size, color: TEXT, whiteSpace: "pre" }}>{children}</div>
);

const Values = ({ items }: { items: string[][] }) => (
  <>
    {items.map(([v, c], i) => (
      <span key={i} style={{ color: c, marginLeft: 6.3, fontSize: 12 }}>
        {v}
      </span>
    ))}
  </>
);

const Down = ({ children }: any) => <span style={{ color: "#f7525f" }}>{children}</span>;

export default function App() {
  return (
    <div style={{ position: "absolute", left: 0, top: 0, width: 2862, height: 1360, background: "#fff", overflow: "hidden", fontFamily: FONT }}>
      <div style={{ position: "absolute", left: 10, top: 7, fontSize: 12.1, color: TEXT, whiteSpace: "pre" }}>ulysse1688 created with TradingView.com, Jul 17, 2026 16:33 UTC-4</div>

      <ChartPane config={eemConfig} left={10} top={27} width={1544} height={996} />
      <ChartPane config={eemStochConfig} left={10} top={1024} width={1544} height={275} />
      <ChartPane config={ratioConfig} left={1557} top={27} width={1295} height={996} />
      <ChartPane config={ratioStochConfig} left={1557} top={1024} width={1295} height={275} />

      {/* pane frames */}
      <div style={{ position: "absolute", left: 9, top: 26, width: 1545, height: 1273, border: "2px solid #f0f3fa", boxSizing: "border-box", pointerEvents: "none" }} />
      <div style={{ position: "absolute", left: 1557, top: 26, width: 1297, height: 1275, border: "2px solid #f0f3fa", boxSizing: "border-box", pointerEvents: "none" }} />
      <div style={{ position: "absolute", left: 10, top: 1022, width: 1544, height: 2, background: "#e0e3eb" }} />
      <div style={{ position: "absolute", left: 1557, top: 1022, width: 1295, height: 2, background: "#e0e3eb" }} />

      {/* left legends */}
      <Row left={18} top={34} size={11.8}>
        iShares MSCI Emerging Index Fund · 1W · NYSE Arca{"  "}O<Down>65.19</Down>{"  "}H<Down>66.04</Down>{"  "}L<Down>62.01</Down>{"  "}C<Down>63.29</Down>{"  "}<Down>−3.61 (−5.40%)</Down>
      </Row>
      {eemLegendRows.map(([t, size], i) => (
        <Row key={t} left={18} top={51 + i * 17} size={size}>
          {t}
        </Row>
      ))}
      <Row left={17} top={1031}>
        Stoch (60, 1, 3)
      </Row>

      {/* right legends */}
      <Row left={1622} top={34} size={11.8}>
        EEM/SPY · 1W · NYSE Arca{"  "}O<Down>0.0866</Down>{"  "}H<Down>0.0874</Down>{"  "}L<Down>0.0837</Down>{"  "}C<Down>0.0851</Down>{"  "}<Down>−0.0035 (−3.91%)</Down>
      </Row>
      <Row left={1622} top={51} size={12}>
        MA Ribbon (EMA, 34, EMA, 55, EMA, 89, SMA, 200)
        <Values items={ratioRibbonValues} />
      </Row>
      <Row left={1622} top={68} size={12.5}>
        Perfect Storm System 7.1 (Week, hlc3, 0, 4, 33, 20, close)
        <Values items={ratioStormValues} />
      </Row>
      <Row left={1622} top={85} size={11.6}>
        BB (20, SMA, close, 2)
        <Values items={ratioBbValues} />
      </Row>
      <Row left={1621} top={1032}>
        Stoch (14, 1, 3)
        <Values items={[["12.11", "#2962ff"], ["19.54", "#ff6d00"]]} />
      </Row>

      {/* price tags */}
      <Box left={1505} top={31} width={45} height={26} bg="#fff" color={TEXT} style={{ border: "1px solid #e0e3eb", borderRadius: 4, boxSizing: "border-box" }}>
        USD
      </Box>
      <Box left={1471} top={333} width={29} height={17} bg="#ef5350">EEM</Box>
      <Box left={1501} top={333} width={44} height={17} bg="#ef5350">63.29</Box>
      <Box left={1470} top={350} width={30} height={17} bg="#2962ff">Post</Box>
      <Box left={1501} top={350} width={44} height={17} bg="#2962ff">63.25</Box>
      <Box left={1502} top={893} width={43} height={16} bg="#f23645">37.16</Box>

      <Box left={2735} top={752} width={55} height={17} bg="#ef5350">EEM/SPY</Box>
      <Box left={2791} top={752} width={49} height={17} bg="#ef5350">0.0851</Box>
      <Box left={2759} top={769} width={31} height={17} bg="#2962ff">Post</Box>
      <Box left={2791} top={769} width={49} height={17} bg="#2962ff">0.0851</Box>

      <Box left={2207} top={1272} width={96} height={24} bg="#2962ff">Mon 30 Dec '24</Box>
      <Box left={1578} top={1273} width={18} height={28} bg="#f0f3fa" color="#50535e" style={{ borderRadius: 9 }}>Z</Box>
      <Box left={2813} top={1273} width={18} height={28} bg="#f0f3fa" color="#50535e" style={{ borderRadius: 9 }}>A</Box>

      {/* footer logo */}
      <svg style={{ position: "absolute", left: 12, top: 1320 }} width="30" height="19" viewBox="0 0 36 28" preserveAspectRatio="none">
        <path d="M14 24H7V11H0V4h14v20zM28 24h-8l7.5-20h8L28 24z" fill="#000" />
        <circle cx="20" cy="8" r="4" fill="#000" />
      </svg>
      <div style={{ position: "absolute", left: 47, top: 1315, fontSize: 23, fontWeight: 600, color: "#000", letterSpacing: -0.3 }}>TradingView</div>
    </div>
  );
}
